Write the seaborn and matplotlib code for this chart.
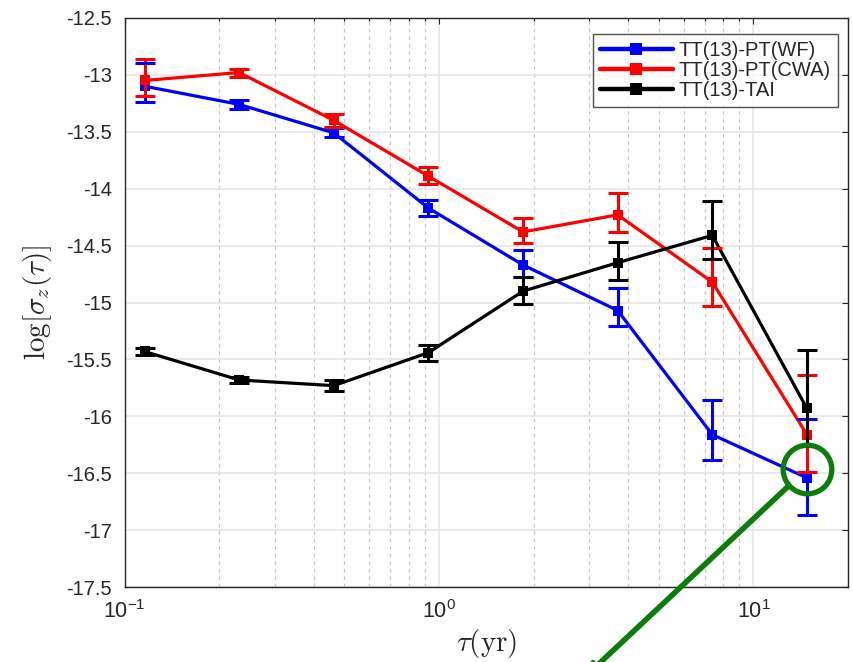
import numpy as np
import pandas as pd
import matplotlib
matplotlib.use("Agg")
import matplotlib.pyplot as plt
import seaborn as sns
from matplotlib.ticker import LogLocator, FixedLocator, FuncFormatter

# ---- data ----
tau = [0.115625, 0.23125, 0.4625, 0.925, 1.85, 3.7, 7.4, 14.8]
series_names = ["TT(13)-PT(WF)", "TT(13)-PT(CWA)", "TT(13)-TAI"]
colors = ["#0000ff", "#ff0000", "#000000"]

wf = [-13.10, -13.26, -13.51, -14.17, -14.67, -15.07, -16.16, -16.54]
wf_lo = [0.14, 0.04, 0.04, 0.07, 0.11, 0.14, 0.22, 0.33]
wf_hi = [0.20, 0.04, 0.04, 0.07, 0.13, 0.20, 0.30, 0.52]

cwa = [-13.05, -12.98, -13.40, -13.89, -14.38, -14.23, -14.82, -16.16]
cwa_lo = [0.14, 0.04, 0.06, 0.07, 0.10, 0.15, 0.21, 0.33]
cwa_hi = [0.19, 0.03, 0.06, 0.08, 0.12, 0.19, 0.30, 0.52]

tai = [-15.43, -15.68, -15.73, -15.44, -14.90, -14.65, -14.41, -15.93]
tai_lo = [0.03, 0.03, 0.05, 0.07, 0.11, 0.15, 0.21, 0.33]
tai_hi = [0.03, 0.03, 0.05, 0.07, 0.12, 0.18, 0.30, 0.51]

yticks = [-17.5, -17, -16.5, -16, -15.5, -15, -14.5, -14, -13.5, -13, -12.5]
ytick_labels = ["-17.5", "-17", "-16.5", "-16", "-15.5", "-15", "-14.5", "-14", "-13.5", "-13", "-12.5"]

vals = [wf, cwa, tai]
los = [wf_lo, cwa_lo, tai_lo]
his = [wf_hi, cwa_hi, tai_hi]

df = pd.DataFrame({
    "tau": np.tile(tau, 3),
    "value": np.concatenate(vals),
    "series": np.repeat(series_names, len(tau)),
})

# ---- style ----
sns.set_style("white")
plt.rcParams["font.family"] = ["Liberation Sans", "DejaVu Sans"]
plt.rcParams["mathtext.fontset"] = "cm"

fig = plt.figure(figsize=(8.54, 6.62), dpi=100)
ax = fig.add_axes([0.146, 0.113, 0.847, 0.860])

for i, name in enumerate(series_names):
    ax.errorbar(tau, vals[i], yerr=[los[i], his[i]], fmt="none",
                ecolor=colors[i], elinewidth=2.2, capsize=7.5, capthick=2.2,
                zorder=3 + i)

sns.lineplot(data=df, x="tau", y="value", hue="series", hue_order=series_names,
             palette=colors, marker="s", markersize=7, markeredgewidth=0,
             linewidth=2.3, ax=ax, sort=False, legend=True, zorder=3)
for i, line in enumerate(ax.get_lines()[:3]):
    line.set_zorder(3.5 + i)

ax.set_xscale("log")
ax.set_xlim(0.1, 20)
ax.set_ylim(-17.5, -12.5)
ax.yaxis.set_major_locator(FixedLocator(yticks))
ax.set_yticklabels(ytick_labels)
ax.xaxis.set_major_locator(LogLocator(base=10, numticks=10))
ax.xaxis.set_minor_locator(LogLocator(base=10, subs=np.arange(2, 10), numticks=20))

def fmt_x(v, pos):
    e = int(round(np.log10(v)))
    return r"$\mathregular{10^{%d}}$" % e
ax.xaxis.set_major_formatter(FuncFormatter(fmt_x))

ax.grid(True, which="major", axis="both", color="#e6e6e6", linewidth=1.2, linestyle="-")
ax.grid(True, which="minor", axis="x", color="#c8c8c8", linewidth=0.9, linestyle=(0, (3, 3)))
ax.set_axisbelow(True)

ax.tick_params(axis="both", which="both", direction="in", top=True, right=True,
               labelsize=14.5, colors="#262626", length=4, width=0.8)
ax.tick_params(axis="y", which="major", pad=9)
ax.tick_params(axis="x", which="major", labelsize=15.5, pad=9)
ax.tick_params(axis="x", which="minor", length=2.5)
for s in ax.spines.values():
    s.set_color("#262626")
    s.set_linewidth(1.0)

ax.set_xlabel(r"$\tau(\mathrm{yr})$", fontsize=21, labelpad=3)
ax.set_ylabel(r"$\log[\sigma_z(\tau)]$", fontsize=21, labelpad=9)

leg = ax.legend(loc="upper right", bbox_to_anchor=(0.986, 0.971), fontsize=14.5,
                frameon=True, fancybox=False, edgecolor="#262626",
                handlelength=3.6, handletextpad=0.3, borderpad=0.35,
                labelspacing=0.05, borderaxespad=0.0)
leg.get_frame().set_linewidth(1.0)
for h in leg.legend_handles:
    h.set_linewidth(3.2)
    h.set_markersize(9)

# ---- annotation: green circle and arrow ----
green = "#0a7d0a"
cx, cy = tau[-1], wf[-1] + 0.08
ax.plot([cx], [cy], marker="o", markersize=35, markerfacecolor="none",
        markeredgecolor=green, markeredgewidth=3.8, zorder=10, clip_on=False)
ax.annotate("", xy=(cx, cy), xycoords="data",
            xytext=(-160, -150), textcoords="offset points",
            annotation_clip=False,
            arrowprops=dict(arrowstyle="<-,head_length=0.7,head_width=0.35", color=green,
                            lw=4, shrinkA=0, shrinkB=18))

fig.savefig("out.png", dpi=100)
